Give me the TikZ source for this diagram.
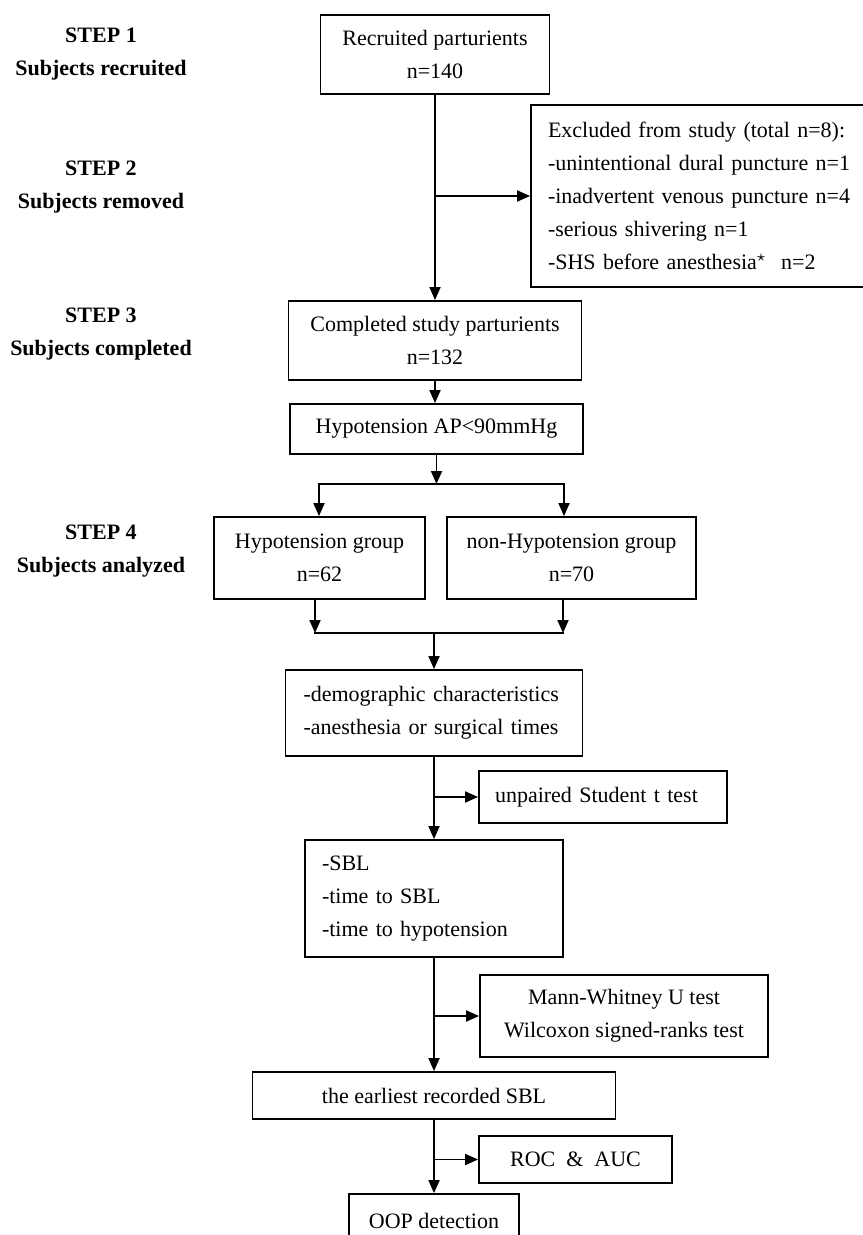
\documentclass[tikz,border=0pt]{standalone}
\usepackage{fontspec}
\setmainfont{Liberation Serif}
\usetikzlibrary{arrows.meta}

\tikzset{
  flowbox/.style={draw, line width=0.9pt, inner ysep=2pt, align=center},
  leftbox/.style={flowbox, align=left, inner xsep=#1},
  steplabel/.style={align=center, font=\fontsize{11}{16.5}\selectfont\bfseries},
  arr/.style={-{Triangle[length=6.5pt,width=5.5pt]}, line width=0.9pt},
  arrtwo/.style={{Triangle[length=6.5pt,width=5.5pt]}-{Triangle[length=6.5pt,width=5.5pt]}, line width=0.9pt},
}

\begin{document}
\begin{tikzpicture}[x=0.5pt, y=-0.5pt, font=\fontsize{11}{16.5}\selectfont]
    \useasboundingbox (0,0) rectangle (862,1235);

    % Step labels
    \node[steplabel] (step1) at (101,54.5) {STEP 1\\Subjects recruited};
    \node[steplabel] (step2) at (101,187) {STEP 2\\Subjects removed};
    \node[steplabel] (step3) at (101,334.5) {STEP 3\\Subjects completed};
    \node[steplabel] (step4) at (101,551) {STEP 4\\Subjects analyzed};

    % Main column
    \node[flowbox, minimum width=114.5pt, minimum height=39.5pt] (rec) at (435,54.5) {Recruited parturients\\n=140};
    \node[leftbox=8.5pt, text width=155pt, minimum height=91pt] (excl) at (703,196)
        {Excluded from study (total n=8):\\
         -unintentional dural puncture n=1\\
         -inadvertent venous puncture n=4\\
         -serious shivering n=1\\
         -SHS before anesthesia$^\star$\ \ n=2};
    \node[flowbox, minimum width=146.5pt, minimum height=39.5pt] (done) at (435,340.5) {Completed study parturients\\n=132};
    \node[flowbox, minimum width=146.5pt, minimum height=25pt] (hypo) at (436.5,429) {Hypotension AP<90mmHg};

    % Groups
    \node[flowbox, minimum width=105.5pt, minimum height=41pt] (grpA) at (319.5,558) {Hypotension group\\n=62};
    \node[flowbox, minimum width=124.5pt, minimum height=41pt] (grpB) at (571.5,558) {non-Hypotension group\\n=70};

    % Analyses
    \node[leftbox=9pt, text width=130.5pt, minimum height=43pt] (demo) at (434,713)
        {-demographic characteristics\\-anesthesia or surgical times};
    \node[leftbox=8pt, text width=108pt, minimum height=26pt] (ttest) at (603,797) {unpaired Student t test};
    \node[leftbox=8.5pt, text width=112pt, minimum height=58.5pt] (sbl) at (434,898.5)
        {-SBL\\-time to SBL\\-time to hypotension};
    \node[flowbox, minimum width=144pt, minimum height=41pt] (mwu) at (624,1016) {Mann-Whitney U test\\Wilcoxon signed-ranks test};
    \node[flowbox, minimum width=181.5pt, minimum height=23.5pt] (early) at (434,1095.5) {the earliest recorded SBL};
    \node[flowbox, minimum width=96.5pt, minimum height=23.5pt] (roc) at (575.5,1159.5) {ROC\ \ \&\ \ AUC};
    \node[flowbox, minimum width=85pt, minimum height=27pt] (oop) at (434,1221) {OOP detection};

    % Connectors
    \draw[arr] (rec.south -| done.north) -- (done.north);
    \draw[arr] (done.north |- excl.west) -- (excl.west);
    \draw[arr] (done.south) -- (done.south |- hypo.north);

    \coordinate (fork) at (436.5,484);
    \coordinate (forkL) at (319,484);
    \coordinate (forkR) at (564,484);
    \draw[arr] (hypo.south) -- (fork);
    \draw[arrtwo] (forkL |- grpA.north) -- (forkL) -- (forkR) -- (forkR |- grpB.north);

    \coordinate (join) at (434,633);
    \coordinate (joinL) at (315,633);
    \coordinate (joinR) at (563,633);
    \draw[arr] (joinL |- grpA.south) -- (joinL);
    \draw[arr] (joinR |- grpB.south) -- (joinR);
    \draw[line width=0.9pt, line cap=rect] (joinL) -- (joinR);
    \draw[arr] (join) -- (demo.north);

    \draw[arr] (demo.south) -- (sbl.north);
    \draw[arr] (demo.south |- ttest.west) -- (ttest.west);
    \draw[arr] (sbl.south) -- (early.north);
    \draw[arr] (sbl.south |- mwu.west) -- (mwu.west);
    \draw[arr] (early.south) -- (oop.north);
    \draw[arr] (early.south |- roc.west) -- (roc.west);

\end{tikzpicture}
\end{document}
